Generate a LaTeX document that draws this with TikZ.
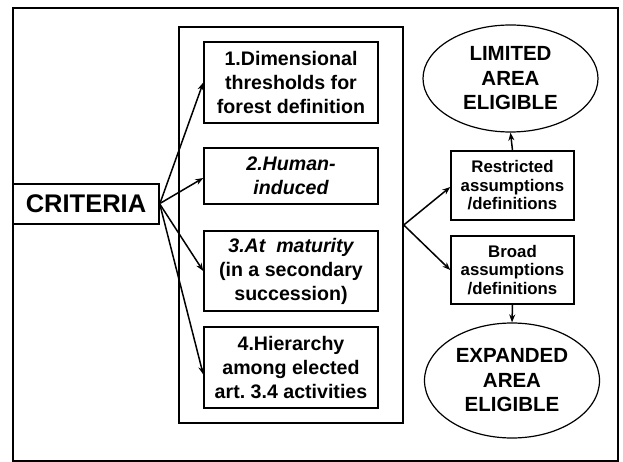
\documentclass[tikz,border=0pt]{standalone}
\usepackage{fontspec}
\setmainfont{Liberation Sans}
\usetikzlibrary{shapes.geometric,arrows.meta,calc}
\begin{document}
\begin{tikzpicture}[x=1pt,y=-1pt,
  critbox/.style={draw,line width=1.5pt,rectangle,inner sep=0pt,align=center,
    minimum width=174pt,font=\bfseries\fontsize{19.6}{24}\selectfont},
  assumbox/.style={draw,line width=1.5pt,rectangle,inner sep=0pt,align=center,
    minimum width=123pt,font=\bfseries\fontsize{16.8}{18.5}\selectfont},
  areaell/.style={draw,line width=1.2pt,ellipse,inner sep=0pt,align=center,
    minimum width=175pt,font=\bfseries\fontsize{20.5}{24.5}\selectfont},
  arr/.style={line width=1.5pt,-{Stealth[length=8pt,width=6pt]}}
]
\useasboundingbox (0,0) rectangle (623,462);
% outer frame
\draw[line width=2.5pt] (13,8) rectangle (618,461);
% inner group rectangle
\node[draw,line width=1.5pt,rectangle,inner sep=0pt,minimum width=224pt,minimum height=396pt] (group) at (291,225) {};
% criteria
\node[draw,line width=1.5pt,rectangle,inner sep=0pt,minimum width=146pt,minimum height=40pt,
  font=\bfseries\fontsize{25.5}{28}\selectfont] (crit) at (86,204) {CRITERIA};
% criteria boxes
\node[critbox,minimum height=81pt] (b1) at (291,82.5) {1.Dimensional\\thresholds for\\forest definition};
\node[critbox,minimum height=56pt] (b2) at (291,176) {\itshape 2.Human-\\\itshape induced};
\node[critbox,minimum height=80pt] (b3) at (291,271) {\itshape 3.At\ \ maturity\\(in a secondary\\succession)};
\node[critbox,minimum height=81pt] (b4) at (291,367.5) {4.Hierarchy\\among elected\\art.\ 3.4 activities};
% assumption boxes
\node[assumbox,minimum height=69pt] (res) at (512.5,185.5) {Restricted\\assumptions\\/definitions};
\node[assumbox,minimum height=68pt] (brd) at (512.5,270) {Broad\\assumptions\\/definitions};
% ellipses
\node[areaell,minimum height=107pt] (lim) at (510.5,78.5) {LIMITED\\AREA\\ELIGIBLE};
\node[areaell,minimum height=115pt] (exp) at (512,380.5) {EXPANDED\\AREA\\ELIGIBLE};
% arrows
\draw[arr] (crit.east) -- (b1.west);
\draw[arr] ($(crit.east)+(1,-1)$) -- ($(b2.west)+(0,2)$);
\draw[arr] (crit.east) -- (b3.west);
\draw[arr] (crit.east) -- ($(b4.west)+(0,7)$);
\draw[arr] (group.east) -- ($(res.west)+(0,1.5)$);
\draw[arr] (group.east) -- (brd.west);
\draw[arr] (res.north) -- (lim.south);
\draw[arr] (brd.south) -- (exp.north);
\end{tikzpicture}
\end{document}
